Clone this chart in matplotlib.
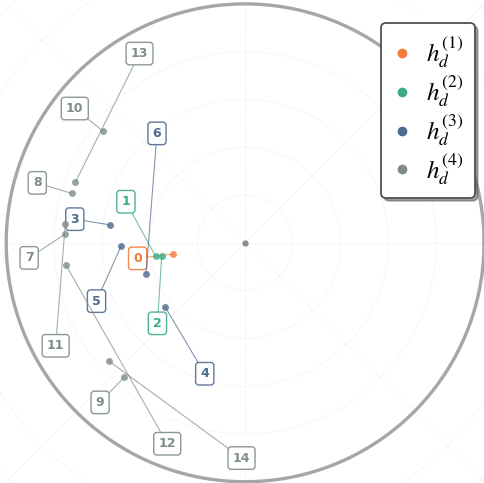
import numpy as np
import matplotlib.pyplot as plt
from matplotlib.lines import Line2D

plt.rcParams["mathtext.fontset"] = "stix"

# node positions inside the unit disk, grouped by depth
h1_x = [-0.302]
h1_y = [-0.047]
h1_ids = [0]
h1_lx = [-0.450]
h1_ly = [-0.065]

h2_x = [-0.375, -0.349]
h2_y = [-0.056, -0.054]
h2_ids = [1, 2]
h2_lx = [-0.499, -0.367]
h2_ly = [0.172, -0.337]

h3_x = [-0.565, -0.335, -0.519, -0.415]
h3_y = [0.075, -0.268, -0.013, -0.132]
h3_ids = [3, 4, 5, 6]
h3_lx = [-0.713, -0.169, -0.622, -0.369]
h3_ly = [0.099, -0.548, -0.244, 0.458]

h4_x = [-0.756, -0.726, -0.505, -0.594, -0.753, -0.750, -0.711, -0.570]
h4_y = [0.035, 0.207, -0.561, 0.467, 0.077, -0.093, 0.253, -0.495]
h4_ids = [7, 8, 9, 10, 11, 12, 13, 14]
h4_lx = [-0.904, -0.870, -0.607, -0.713, -0.793, -0.326, -0.442, -0.015]
h4_ly = [-0.063, 0.251, -0.668, 0.562, -0.431, -0.841, 0.792, -0.901]

levels = [
    (h1_x, h1_y, h1_ids, h1_lx, h1_ly, "#f47a3a", r"$h_d^{(1)}$"),
    (h2_x, h2_y, h2_ids, h2_lx, h2_ly, "#3daa86", r"$h_d^{(2)}$"),
    (h3_x, h3_y, h3_ids, h3_lx, h3_ly, "#4e6a8d", r"$h_d^{(3)}$"),
    (h4_x, h4_y, h4_ids, h4_lx, h4_ly, "#7f8c8d", r"$h_d^{(4)}$"),
]

fig = plt.figure(figsize=(4.85, 4.83), dpi=100)
ax = fig.add_axes([0, 0, 1, 1])
ax.set_xlim(-1.026, 1.004)
ax.set_ylim(-1.004, 1.015)
ax.set_aspect("equal")
ax.axis("off")

# polar-style grid
t = np.linspace(0, 2 * np.pi, 400)
grid_kw = dict(color="#ececec", lw=0.6, ls=(0, (1.5, 1.5)), zorder=0)
for r in [0.2, 0.4, 0.6, 0.8, 1.2, 1.4]:
    ax.plot(r * np.cos(t), r * np.sin(t), **grid_kw)
for a in np.arange(0, 180, 45):
    a = np.deg2rad(a)
    ax.plot([-2 * np.cos(a), 2 * np.cos(a)], [-2 * np.sin(a), 2 * np.sin(a)], **grid_kw)

# boundary of the disk
ax.plot(np.cos(t), np.sin(t), color="#a6a6a6", lw=2.4, zorder=1)
ax.plot([0], [0], "o", color="#8c8c8c", ms=3.5, zorder=2)

handles = []
for xs, ys, ids, lxs, lys, color, name in levels:
    ax.plot(xs, ys, "o", color=color, ms=5, alpha=0.8, mec="none", zorder=4)
    for x, y, i, lx, ly in zip(xs, ys, ids, lxs, lys):
        ax.annotate(
            str(i), xy=(x, y), xytext=(lx, ly), textcoords="data",
            ha="center", va="center", fontsize=9, fontweight="bold", color=color,
            bbox=dict(boxstyle="round,pad=0.38,rounding_size=0.25", fc="white",
                      ec=color, lw=1.0, alpha=0.9),
            arrowprops=dict(arrowstyle="-", color=color, lw=0.8, alpha=0.7,
                            shrinkA=0, shrinkB=0),
            zorder=3,
        )
    handles.append(Line2D([], [], ls="none", marker="o", color=color, ms=6, label=name))

leg = ax.legend(handles=handles, loc="upper right", bbox_to_anchor=(0.979, 0.952),
                bbox_transform=fig.transFigure, borderaxespad=0, fontsize=18,
                frameon=True, shadow=True, fancybox=True, framealpha=1,
                edgecolor="#505050", handlelength=0.75, handletextpad=0.6,
                labelspacing=0.12, borderpad=0.45)
leg.get_frame().set_linewidth(1.3)

fig.savefig("out.png", dpi=100)
